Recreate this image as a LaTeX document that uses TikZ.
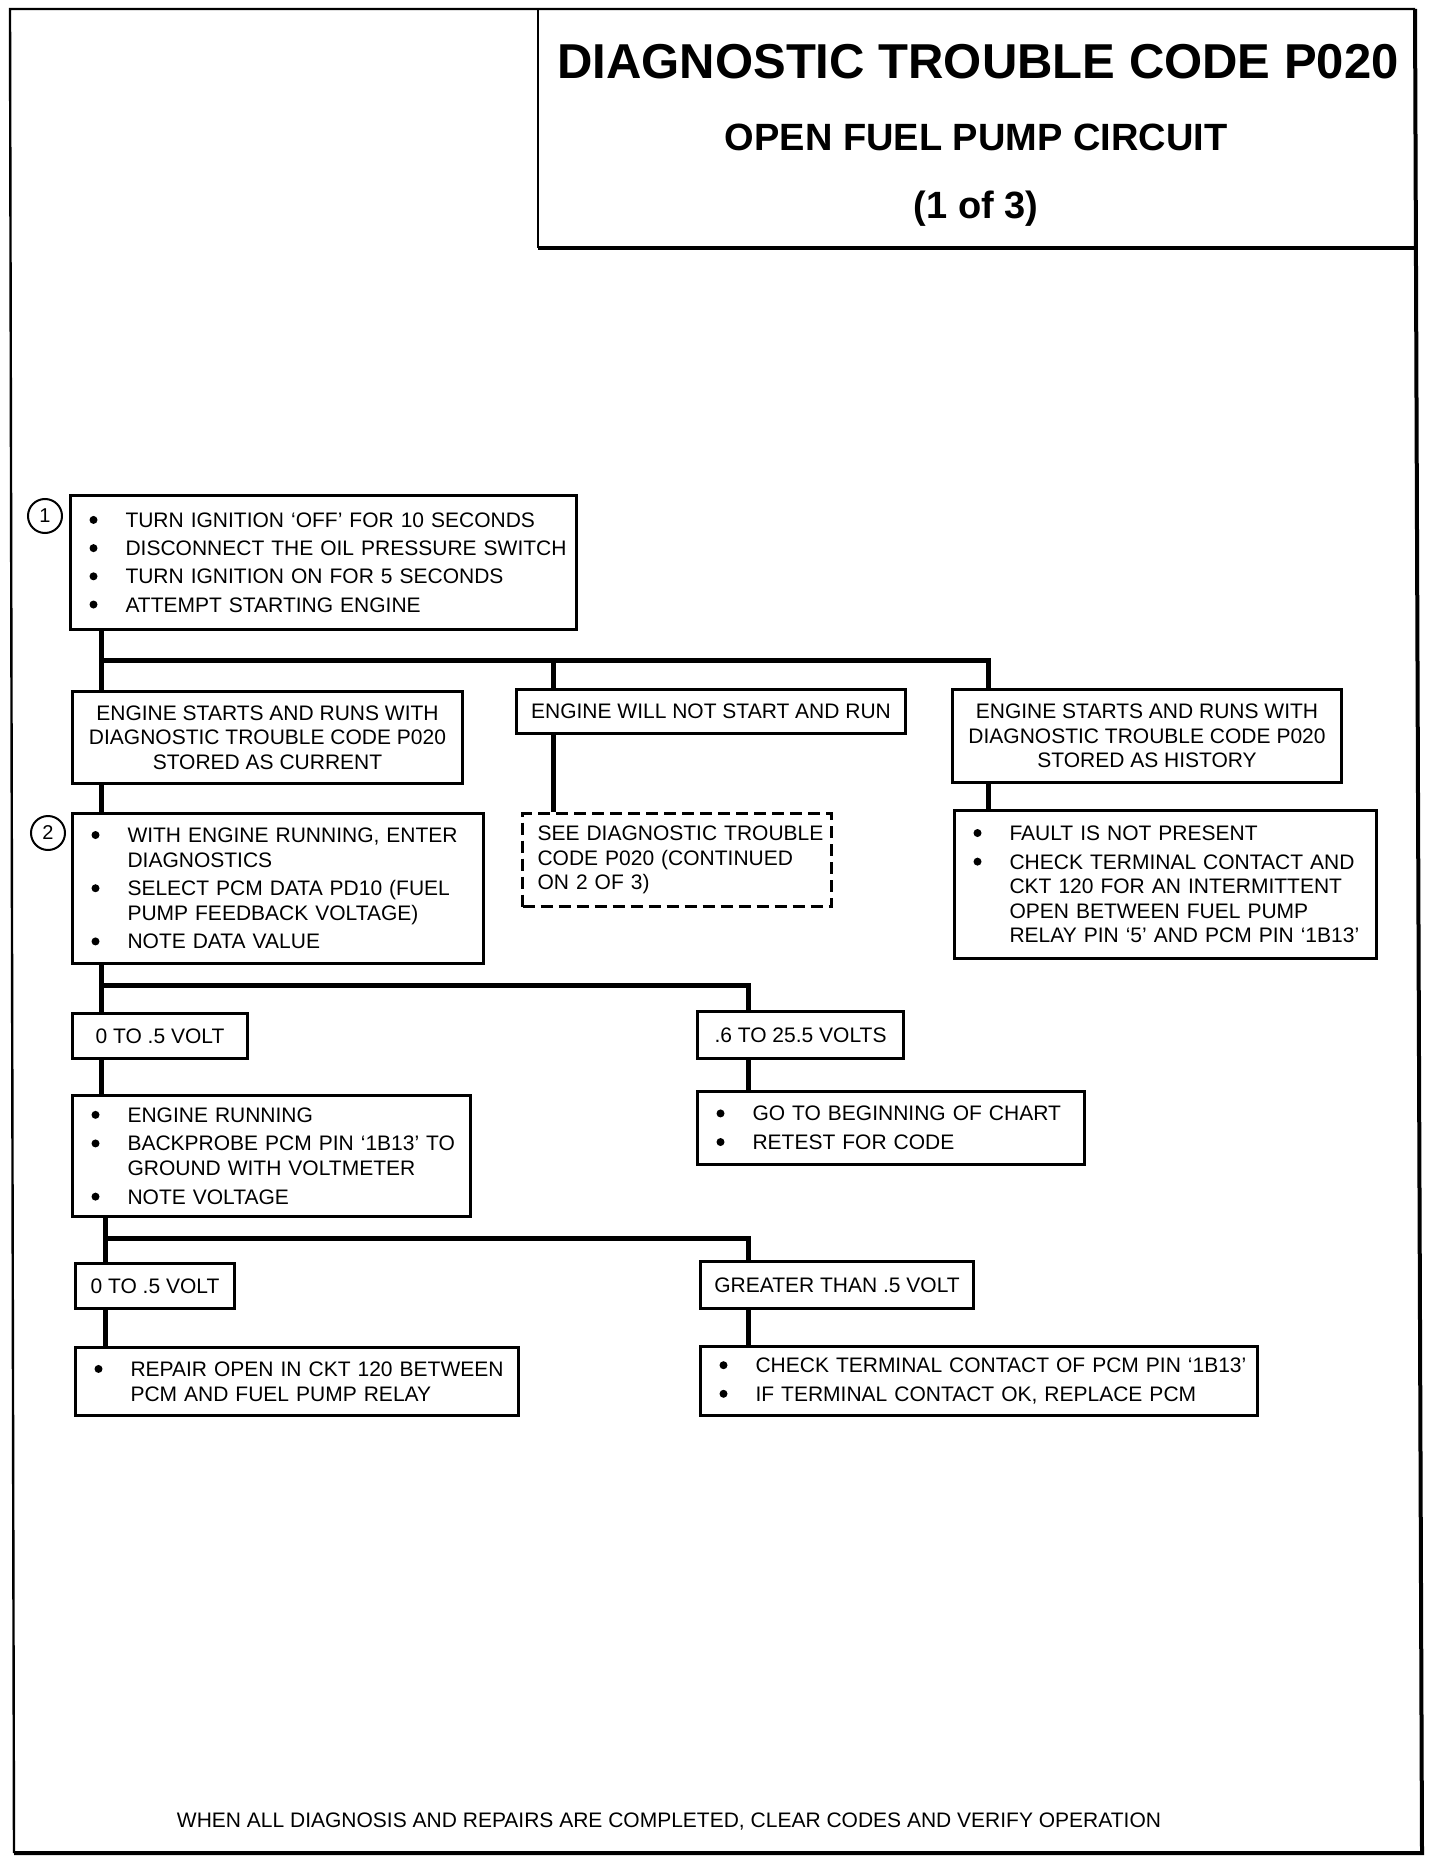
\documentclass[tikz,border=0pt]{standalone}
\usepackage{fontspec}
\setmainfont{Liberation Sans}
\newcommand{\bodyfont}{\fontsize{10.5pt}{12.3pt}\selectfont}
\newcommand{\dotmark}{\raisebox{1.75pt}{\tikz\fill (0,0) circle (2pt);}}
\newcommand{\bi}[1]{\mbox{\makebox[19.5pt][l]{\hspace*{1.5pt}\dotmark}#1}}
\newcommand{\ci}[1]{\mbox{\hspace*{19.5pt}#1}}
\begin{document}
\begin{tikzpicture}[x=0.5pt,y=-0.5pt,
  box/.style={draw, line width=1.5pt, anchor=north west, inner sep=0pt, font=\bodyfont},
  lbox/.style={box, align=left, inner xsep=8pt},
  cbox/.style={box, align=center},
  conn/.style={line width=2.5pt, line join=miter},
  circ/.style={draw, circle, line width=1pt, minimum size=17pt, inner sep=0pt, font=\fontsize{10}{12}\selectfont},
  frame/.style={line width=1.2pt},
  framethick/.style={line width=2pt}]
\useasboundingbox (0,0) rectangle (1440,1866);

% frame and title box
\draw[frame] (14,1853) -- (10,9) -- (1415,9);
\draw[framethick, line join=miter] (1415,9) -- (1422,1853) -- (14,1853);
\draw[frame] (538,9) -- (538,248);
\draw[framethick] (538,248) -- (1416,248);

\node[font=\bfseries\fontsize{24.5}{28}\selectfont] (t1) at (978,62) {DIAGNOSTIC TROUBLE CODE P020};
\node[font=\bfseries\fontsize{19}{22}\selectfont] (t2) at (976,137) {OPEN FUEL PUMP CIRCUIT};
\node[font=\bfseries\fontsize{19}{22}\selectfont] (t3) at (976,209) {(1 of 3)};

% boxes
\node[circ] (n1) at (45,516) {1};
\node[lbox, text width=237pt, minimum height=67pt] (s1) at (69,494)
  {\bi{TURN IGNITION `OFF' FOR 10 SECONDS}\\[1.8pt]
   \bi{DISCONNECT THE OIL PRESSURE SWITCH}\\[1.8pt]
   \bi{TURN IGNITION ON FOR 5 SECONDS}\\[1.8pt]
   \bi{ATTEMPT STARTING ENGINE}};

\node[cbox, minimum width=195pt, minimum height=46pt] (a) at (71,690)
  {ENGINE STARTS AND RUNS WITH\\DIAGNOSTIC TROUBLE CODE P020\\STORED AS CURRENT};
\node[cbox, minimum width=194.5pt, minimum height=22pt] (b) at (515,688)
  {ENGINE WILL NOT START AND RUN};
\node[cbox, minimum width=194.5pt, minimum height=46.5pt] (c) at (951,688)
  {ENGINE STARTS AND RUNS WITH\\DIAGNOSTIC TROUBLE CODE P020\\STORED AS HISTORY};

\node[circ] (n2) at (48,833) {2};
\node[lbox, text width=189.5pt, minimum height=75pt] (s2) at (71,812)
  {\bi{WITH ENGINE RUNNING, ENTER}\\
   \ci{DIAGNOSTICS}\\[2pt]
   \bi{SELECT PCM DATA PD10 (FUEL}\\
   \ci{PUMP FEEDBACK VOLTAGE)}\\[2pt]
   \bi{NOTE DATA VALUE}};

\node[lbox, dashed, dash pattern=on 6pt off 3pt, inner xsep=7.5pt, text width=139.5pt, minimum height=46.5pt] (d) at (521,812)
  {\mbox{SEE DIAGNOSTIC TROUBLE}\\\mbox{CODE P020 (CONTINUED}\\\mbox{ON 2 OF 3)}};

\node[lbox, text width=195pt, minimum height=74pt] (h) at (953,809)
  {\bi{FAULT IS NOT PRESENT}\\[2pt]
   \bi{CHECK TERMINAL CONTACT AND}\\
   \ci{CKT 120 FOR AN INTERMITTENT}\\
   \ci{OPEN BETWEEN FUEL PUMP}\\
   \ci{RELAY PIN `5' AND PCM PIN `1B13'}};

\node[cbox, minimum width=87.5pt, minimum height=22.5pt] (v1) at (71,1012) {0 TO .5 VOLT};
\node[cbox, minimum width=103pt, minimum height=23.5pt] (v2) at (696,1010) {.6 TO 25.5 VOLTS};

\node[lbox, text width=183pt, minimum height=60.5pt] (e1) at (71,1094)
  {\bi{ENGINE RUNNING}\\[2pt]
   \bi{BACKPROBE PCM PIN `1B13' TO}\\
   \ci{GROUND WITH VOLTMETER}\\[2pt]
   \bi{NOTE VOLTAGE}};
\node[lbox, text width=177.5pt, minimum height=36.5pt] (e2) at (696,1090)
  {\bi{GO TO BEGINNING OF CHART}\\[2pt]
   \bi{RETEST FOR CODE}};

\node[cbox, minimum width=79.5pt, minimum height=22.5pt] (f1) at (74,1262) {0 TO .5 VOLT};
\node[cbox, minimum width=136.5pt, minimum height=23.5pt] (f2) at (699,1260) {GREATER THAN .5 VOLT};

\node[lbox, text width=205.5pt, minimum height=34pt] (g1) at (74,1346)
  {\bi{REPAIR OPEN IN CKT 120 BETWEEN}\\
   \ci{PCM AND FUEL PUMP RELAY}};
\node[lbox, text width=262.5pt, minimum height=34.5pt] (g2) at (699,1345)
  {\bi{CHECK TERMINAL CONTACT OF PCM PIN `1B13'}\\[2pt]
   \bi{IF TERMINAL CONTACT OK, REPLACE PCM}};

\node[font=\bodyfont] (ft) at (669,1821)
  {WHEN ALL DIAGNOSIS AND REPAIRS ARE COMPLETED, CLEAR CODES AND VERIFY OPERATION};

% connectors
\coordinate (j1) at (101,660);
\coordinate (j1m) at (553,660);
\coordinate (j1r) at (988,660);
\draw[conn] (s1.south -| j1) -- (a.north -| j1);
\draw[conn] (j1) -- (j1r) -- (c.north -| j1r);
\draw[conn] (j1m) -- (b.north -| j1m);
\draw[conn] (b.south -| j1m) -- (d.north -| j1m);
\draw[conn] (c.south -| j1r) -- (h.north -| j1r);
\draw[conn] (a.south -| j1) -- (s2.north -| j1);

\coordinate (j2) at (101,985);
\coordinate (j2r) at (748,985);
\draw[conn] (s2.south -| j2) -- (v1.north -| j2);
\draw[conn] (j2) -- (j2r) -- (v2.north -| j2r);
\draw[conn] (v1.south -| j2) -- (e1.north -| j2);
\draw[conn] (v2.south -| j2r) -- (e2.north -| j2r);

\coordinate (j3) at (105,1238);
\coordinate (j3r) at (748,1238);
\draw[conn] (e1.south -| j3) -- (f1.north -| j3);
\draw[conn] (j3) -- (j3r) -- (f2.north -| j3r);
\draw[conn] (f1.south -| j3) -- (g1.north -| j3);
\draw[conn] (f2.south -| j3r) -- (g2.north -| j3r);
\end{tikzpicture}
\end{document}
